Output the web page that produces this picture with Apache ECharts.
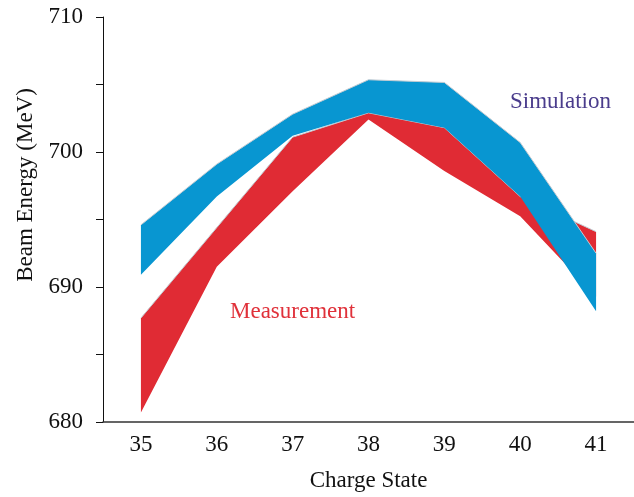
<!DOCTYPE html>
<html>
<head>
<meta charset="utf-8">
<script src="https://cdn.jsdelivr.net/npm/echarts@6/dist/echarts.min.js"></script>
<style>
  html, body { margin: 0; padding: 0; background: #fff; }
  #chart { width: 634px; height: 497px; }
</style>
</head>
<body>
<div id="chart"></div>
<script>
// charge states on the x axis
var chargeStates = ['35', '36', '37', '38', '39', '40', '41']
// measured beam energy band (MeV)
var measLow = [680.7, 691.5, 697.1, 702.4, 698.6, 695.25, 689.3]
var measHigh = [687.7, 694.4, 701.1, 702.9, 701.8, 696.7, 694.1]
// simulated beam energy band (MeV)
var simLow = [690.9, 696.7, 701.2, 702.9, 701.8, 696.7, 688.2]
var simHigh = [694.6, 699.1, 702.8, 705.35, 705.15, 700.7, 692.5]

var FONT = '"Liberation Serif", "DejaVu Serif", serif'
var RED = '#e02b34'
var BLUE = '#0896d1'

function diff (hi, lo) {
  return hi.map(function (v, i) { return +(v - lo[i]).toFixed(3) })
}

// a filled band = invisible lower line + stacked difference with area
function band (name, lo, hi, color, z) {
  return [{
    name: name + '-low',
    type: 'line',
    stack: name,
    z: z,
    data: lo,
    symbol: 'none',
    lineStyle: { width: 0, opacity: 0 },
    silent: true
  }, {
    name: name,
    type: 'line',
    stack: name,
    z: z,
    data: diff(hi, lo),
    symbol: 'none',
    lineStyle: { width: 1, color: '#c3cbd2' },
    areaStyle: { color: color, opacity: 1 },
    silent: true
  }]
}

var myChart = echarts.init(document.getElementById('chart'))

var option = {
  animation: false,
  backgroundColor: '#fff',
  grid: {
    left: 103,
    right: -2,
    top: 17,
    bottom: 74,
    containLabel: false
  },
  xAxis: {
    type: 'category',
    data: chargeStates,
    boundaryGap: true,
    name: 'Charge State',
    nameLocation: 'middle',
    nameGap: 47,
    nameTextStyle: { fontFamily: FONT, fontSize: 23, color: '#111' },
    axisLine: { lineStyle: { color: '#333', width: 1.5 } },
    axisTick: { alignWithLabel: true, length: 6, lineStyle: { color: '#222' } },
    axisLabel: { fontFamily: FONT, fontSize: 23, color: '#111', margin: 11 },
    splitLine: { show: false }
  },
  yAxis: {
    type: 'value',
    min: 680,
    max: 710,
    interval: 5,
    axisLine: { show: true, lineStyle: { color: '#111', width: 1 } },
    axisTick: { show: true, length: 7, lineStyle: { color: '#111' } },
    axisLabel: {
      fontFamily: FONT,
      fontSize: 23,
      color: '#111',
      margin: 20,
      formatter: function (v) { return v % 10 === 0 ? String(v) : '' }
    },
    splitLine: { show: false }
  },
  graphic: [{
    type: 'text',
    x: 26,
    y: 185,
    rotation: Math.PI / 2,
    style: {
      text: 'Beam Energy (MeV)',
      fontFamily: FONT,
      fontSize: 23,
      fill: '#111',
      textAlign: 'center',
      textVerticalAlign: 'middle'
    }
  }, {
    type: 'text',
    x: 510,
    y: 102,
    style: {
      text: 'Simulation',
      fontFamily: FONT,
      fontSize: 23,
      fill: '#4a3c8c',
      textAlign: 'left',
      textVerticalAlign: 'middle'
    }
  }, {
    type: 'text',
    x: 230,
    y: 312,
    style: {
      text: 'Measurement',
      fontFamily: FONT,
      fontSize: 23,
      fill: '#e0313a',
      textAlign: 'left',
      textVerticalAlign: 'middle'
    }
  }],
  series: band('Measurement', measLow, measHigh, RED, 2)
    .concat(band('Simulation', simLow, simHigh, BLUE, 4))
}

myChart.setOption(option)
</script>
</body>
</html>
